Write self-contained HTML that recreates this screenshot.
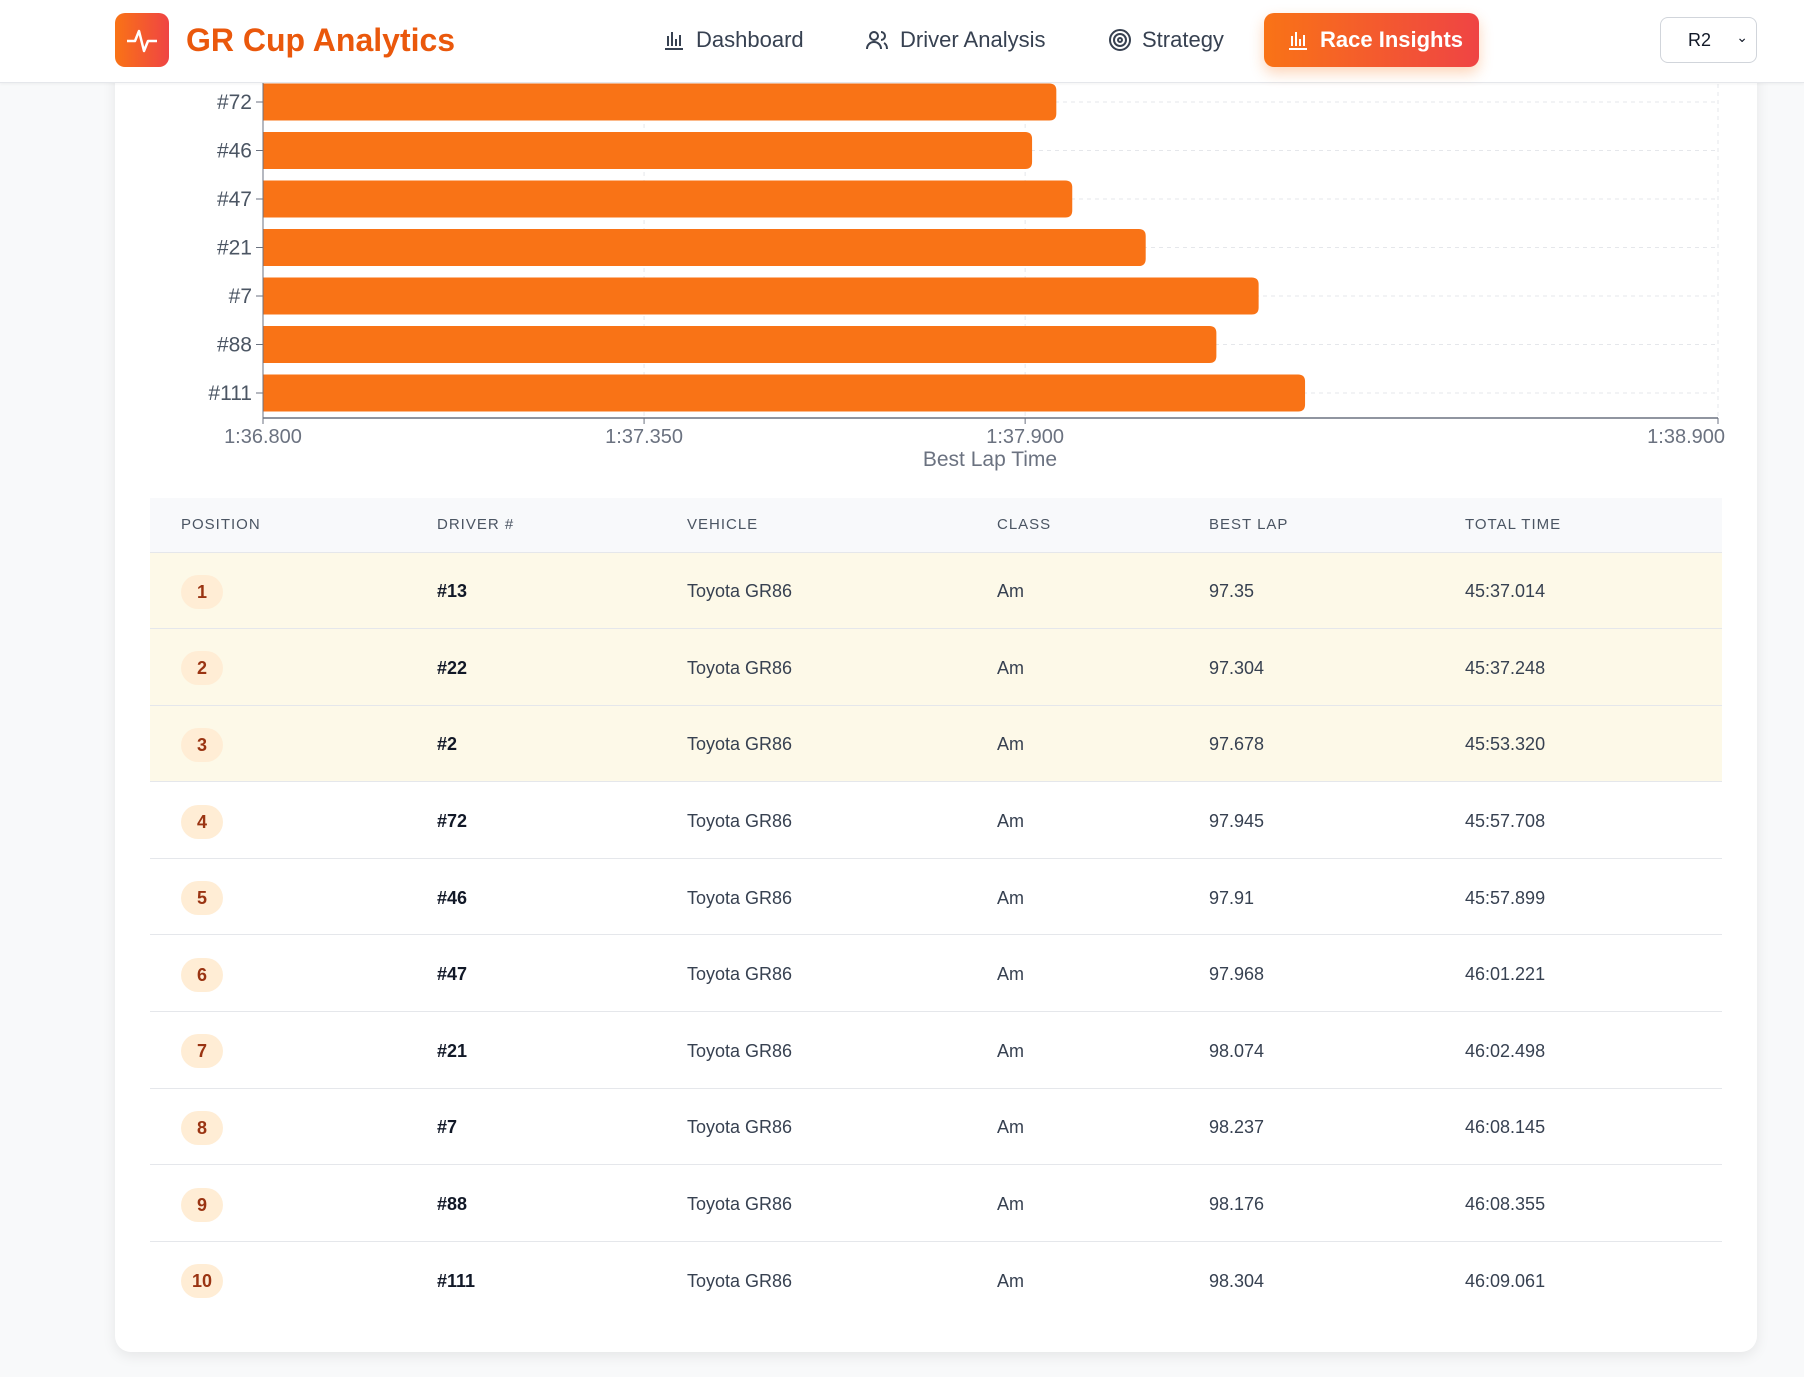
<!DOCTYPE html>
<html><head><meta charset="utf-8"><style>
*{box-sizing:border-box;margin:0;padding:0}
body{width:1804px;height:1377px;background:#f8f9fa;font-family:"Liberation Sans","DejaVu Sans",sans-serif;position:relative;overflow:hidden;color:#374151}
#card{position:absolute;left:115px;top:-20px;width:1642px;height:1372px;background:#fff;border-radius:16px;box-shadow:0 4px 14px rgba(0,0,0,0.08)}
#hdr{position:absolute;left:0;top:0;width:1804px;height:83px;background:#fff;border-bottom:1px solid #e5e7eb;box-shadow:0 1px 3px rgba(0,0,0,0.05);z-index:5}
.abs{position:absolute}
.nav{position:absolute;top:27px;font-size:22px;color:#374151;display:flex;align-items:center;gap:10px}
table{position:absolute;left:150px;top:498px;width:1572px;border-collapse:collapse}
th{height:54px;background:#f8f9fb;font-size:15px;font-weight:normal;letter-spacing:1px;color:#4b5563;text-align:left;border-bottom:1px solid #e5e7eb}
td{height:76.6px;font-size:18px;color:#374151;border-bottom:1px solid #e5e7eb;padding-top:3px}
tr:last-child td{border-bottom:none}
tr.top td{background:#fdf9e8}
.badge{display:inline-block;min-width:42px;height:34px;line-height:34px;text-align:center;border-radius:17px;background:#ffedd5;color:#9a3412;font-size:18px;padding:0 10px;font-weight:bold}
.drv{color:#111827;font-weight:bold}
</style></head><body>
<div id="card"></div>
<svg id="chart" class="abs" style="left:0;top:0" width="1804" height="480"></svg>
<div id="hdr">
 <div class="abs" style="left:115px;top:13px;width:54px;height:54px;border-radius:10px;background:linear-gradient(90deg,#f97316,#ef4444)">
  <svg width="54" height="54"><polyline points="12,28 20,28 24,18 29,38 33,28 42,28" fill="none" stroke="#fff" stroke-width="2.5" stroke-linejoin="round"/></svg></div>
 <div class="abs" style="left:186px;top:22px;font-size:32px;font-weight:bold;color:#ea580c">GR Cup Analytics</div>
 <div class="nav" style="left:662px"><svg width="24" height="24"><path d="M3 21H21M6 18V8M10 18V4M14 18V11M18 18V7" stroke="#374151" stroke-width="2" fill="none"/></svg><span>Dashboard</span></div>
 <div class="nav" style="left:864px"><svg width="26" height="24"><circle cx="10" cy="8" r="4" stroke="#374151" stroke-width="2" fill="none"/><path d="M3 21c0-4 3-7 7-7s7 3 7 7M17 4a4 4 0 0 1 0 8M20 15c2 1 3 3 3 6" stroke="#374151" stroke-width="2" fill="none"/></svg><span>Driver Analysis</span></div>
 <div class="nav" style="left:1108px"><svg width="24" height="24"><circle cx="12" cy="12" r="10" stroke="#374151" stroke-width="2" fill="none"/><circle cx="12" cy="12" r="6" stroke="#374151" stroke-width="2" fill="none"/><circle cx="12" cy="12" r="2" stroke="#374151" stroke-width="2" fill="none"/></svg><span>Strategy</span></div>
 <div class="abs" style="left:1264px;top:13px;width:215px;height:54px;border-radius:10px;background:linear-gradient(90deg,#f97316,#ef4444);box-shadow:0 6px 14px rgba(249,115,22,0.3);color:#fff;font-size:22px;font-weight:bold;display:flex;align-items:center;gap:10px;padding-left:22px"><svg width="24" height="24"><path d="M3 21H21M6 18V8M10 18V4M14 18V11M18 18V7" stroke="#fff" stroke-width="2" fill="none"/></svg><span>Race Insights</span></div>
 <div class="abs" style="left:1660px;top:17px;width:97px;height:46px;border:1px solid #d1d5db;border-radius:8px;font-size:18px;color:#111827;padding:12px 0 0 27px">R2<span style="position:absolute;right:8px;top:11px;font-size:14px">&#8964;</span></div>
</div>
<table>
<thead><tr>
<th style="width:287px;padding-left:31px">POSITION</th><th style="width:250px">DRIVER #</th><th style="width:310px">VEHICLE</th><th style="width:212px">CLASS</th><th style="width:256px">BEST LAP</th><th>TOTAL TIME</th></tr></thead>
<tbody id="tb"></tbody></table>
<script>
const drivers=["#72","#46","#47","#21","#7","#88","#111"];
const bestLaps=[97.945,97.91,97.968,98.074,98.237,98.176,98.304];
const tickValues=[96.8,97.35,97.9,98.9];
const tickLabels=["1:36.800","1:37.350","1:37.900","1:38.900"];
const tPos=[1,2,3,4,5,6,7,8,9,10];
const tDrv=["#13","#22","#2","#72","#46","#47","#21","#7","#88","#111"];
const tBest=["97.35","97.304","97.678","97.945","97.91","97.968","98.074","98.237","98.176","98.304"];
const tTotal=["45:37.014","45:37.248","45:53.320","45:57.708","45:57.899","46:01.221","46:02.498","46:08.145","46:08.355","46:09.061"];
const NS="http://www.w3.org/2000/svg";
const svg=document.getElementById('chart');
const X0=263,X1=1718,D0=96.8,D1=98.9;
const x=v=>X0+(v-D0)/(D1-D0)*(X1-X0);
const y=i=>102+i*48.5;
const axisY=418,BH=37;
function mk(t,a){const e=document.createElementNS(NS,t);for(const k in a)e.setAttribute(k,a[k]);svg.appendChild(e);return e;}
tickValues.forEach((v,i)=>{
 const g=mk('line',{x1:x(v),x2:x(v),y1:60,y2:axisY,stroke:'#e5e7eb','stroke-dasharray':'4 4'});
 
 
 mk('line',{x1:x(v),x2:x(v),y1:axisY,y2:axisY+6,stroke:'#6b7280'});
 const last=i===tickValues.length-1;
 const t=mk('text',{x:last?x(v)+7:x(v),y:axisY+25,'text-anchor':last?'end':'middle','font-size':20,fill:'#6b7280'});
 t.textContent=tickLabels[i];
 
 
});
drivers.forEach((d,i)=>{
 const g=mk('line',{x1:X0,x2:X1,y1:y(i),y2:y(i),stroke:'#e5e7eb','stroke-dasharray':'4 4'});
 
 
 const xe=x(bestLaps[i]),t0=y(i)-BH/2,r=7;
 const b=mk('path',{d:`M${X0} ${t0}H${xe-r}Q${xe} ${t0} ${xe} ${t0+r}V${t0+BH-r}Q${xe} ${t0+BH} ${xe-r} ${t0+BH}H${X0}Z`,fill:'#f97316'});
 
 
 mk('line',{x1:X0-7,x2:X0,y1:y(i),y2:y(i),stroke:'#6b7280'});
 const t=mk('text',{x:X0-11,y:y(i)+7,'text-anchor':'end','font-size':21,fill:'#4b5563'});
 t.textContent=d;
 
 
});
mk('line',{x1:X0,x2:X0,y1:60,y2:axisY,stroke:'#6b7280'});
const ax=mk('line',{x1:X0,x2:X1,y1:axisY,y2:axisY,stroke:'#6b7280','stroke-width':1.5});


const tt=mk('text',{x:990,y:466,'text-anchor':'middle','font-size':21,fill:'#6b7280'});
tt.textContent='Best Lap Time';


const tb=document.getElementById('tb');
tPos.forEach((p,i)=>{
 const tr=document.createElement('tr');
 
 
 if(i<3)tr.className='top';
 tr.innerHTML=`<td style="padding-left:31px"><span class="badge">${p}</span></td><td class="drv">${tDrv[i]}</td><td>Toyota GR86</td><td>Am</td><td>${tBest[i]}</td><td>${tTotal[i]}</td>`;
 tb.appendChild(tr);
});
</script>
</body></html>
